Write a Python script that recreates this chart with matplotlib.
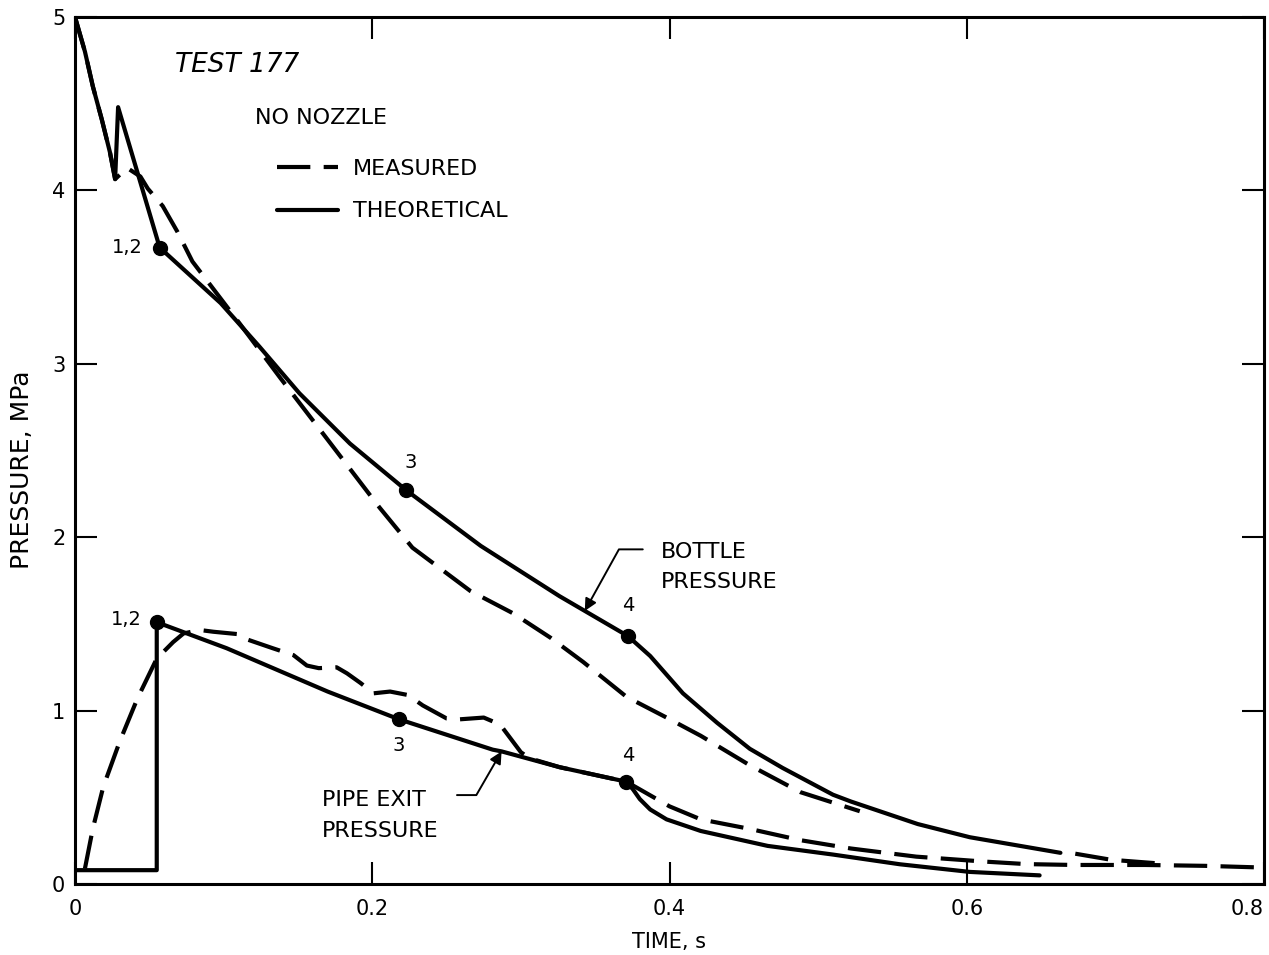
import matplotlib
matplotlib.use("Agg")
import matplotlib.pyplot as plt

plt.rcParams['font.family'] = ['DejaVu Sans']

# ---------------------------------------------------------------- data --
time_ticks = [0.0, 0.2, 0.4, 0.6, 0.8]
time_tick_labels = ["0", "0.2", "0.4", "0.6", "0.8"]
pressure_ticks = [0, 1, 2, 3, 4, 5]

# Bottle pressure, theoretical (time in s, pressure in MPa)
bottle_theo_t = [0.0, 0.0067, 0.012, 0.018, 0.0235, 0.027, 0.029, 0.057,
                 0.098, 0.124, 0.151, 0.185, 0.223, 0.273, 0.326, 0.343,
                 0.372, 0.387, 0.409, 0.432, 0.454, 0.476, 0.51, 0.522,
                 0.567, 0.602, 0.663]
bottle_theo_p = [5.0, 4.80, 4.60, 4.41, 4.22, 4.065, 4.48, 3.67,
                 3.35, 3.10, 2.83, 2.54, 2.27, 1.95, 1.66, 1.575,
                 1.43, 1.315, 1.10, 0.93, 0.78, 0.67, 0.515, 0.476,
                 0.346, 0.27, 0.18]

# Bottle pressure, measured (main record and late tail)
bottle_meas_t = [0.0, 0.0067, 0.012, 0.018, 0.0235, 0.027, 0.035, 0.044,
                 0.049, 0.059, 0.069, 0.079, 0.111, 0.138, 0.172, 0.205,
                 0.227, 0.266, 0.295, 0.32, 0.342, 0.371, 0.398, 0.421,
                 0.454, 0.488, 0.528]
bottle_meas_p = [5.0, 4.80, 4.60, 4.41, 4.22, 4.065, 4.13, 4.08,
                 4.01, 3.91, 3.76, 3.59, 3.23, 2.92, 2.54, 2.17,
                 1.94, 1.69, 1.56, 1.42, 1.28, 1.08, 0.96, 0.855,
                 0.685, 0.53, 0.42]
bottle_tail_t = [0.673, 0.697, 0.735]
bottle_tail_p = [0.175, 0.14, 0.115]

# Pipe exit pressure, theoretical
pipe_theo_t = [0.0, 0.055, 0.055, 0.102, 0.17, 0.218, 0.281, 0.287, 0.326,
               0.371, 0.3755, 0.38, 0.387, 0.398, 0.421, 0.466, 0.51,
               0.555, 0.602, 0.649]
pipe_theo_p = [0.08, 0.08, 1.51, 1.36, 1.11, 0.95, 0.775, 0.765, 0.674,
               0.59, 0.545, 0.49, 0.43, 0.373, 0.306, 0.22, 0.17,
               0.114, 0.07, 0.05]

# Pipe exit pressure, measured
pipe_meas_t = [0.0067, 0.012, 0.019, 0.030, 0.042, 0.055, 0.066, 0.073,
               0.084, 0.093, 0.111, 0.116, 0.133, 0.147, 0.156, 0.164,
               0.176, 0.183, 0.192, 0.201, 0.212, 0.224, 0.234, 0.25,
               0.259, 0.275, 0.286, 0.293, 0.30, 0.306, 0.326, 0.371,
               0.40, 0.421, 0.454, 0.488, 0.522, 0.566, 0.611, 0.64,
               0.672, 0.72, 0.76, 0.80]
pipe_meas_p = [0.09, 0.32, 0.56, 0.82, 1.07, 1.30, 1.395, 1.445,
               1.465, 1.455, 1.44, 1.41, 1.36, 1.32, 1.26, 1.245,
               1.25, 1.215, 1.16, 1.10, 1.11, 1.09, 1.03, 0.955,
               0.95, 0.96, 0.92, 0.84, 0.76, 0.725, 0.674, 0.59,
               0.448, 0.373, 0.318, 0.253, 0.205, 0.158, 0.13, 0.115,
               0.11, 0.11, 0.105, 0.095]

# Numbered state points on the theoretical curves
bottle_pts_t = [0.057, 0.223, 0.372]
bottle_pts_p = [3.67, 2.27, 1.43]
pipe_pts_t = [0.055, 0.218, 0.371]
pipe_pts_p = [1.51, 0.95, 0.59]
bottle_pt_labels = ["1,2", "3", "4"]
pipe_pt_labels = ["1,2", "3", "4"]

# ---------------------------------------------------------------- plot --
fig = plt.figure(figsize=(12.69, 9.55), dpi=100)
ax = fig.add_axes([0.0591, 0.0743, 0.9370, 0.9079])

lw = 3.0
dash = (0, (8, 3.2))
solid_kw = dict(color='black', lw=lw, solid_joinstyle='round', solid_capstyle='round')
dash_kw = dict(color='black', lw=lw, linestyle=dash, dash_capstyle='butt')

theo_line, = ax.plot(bottle_theo_t, bottle_theo_p, **solid_kw)
ax.plot(pipe_theo_t, pipe_theo_p, **solid_kw)
meas_line, = ax.plot(bottle_meas_t, bottle_meas_p, **dash_kw)
ax.plot(bottle_tail_t, bottle_tail_p, **dash_kw)
ax.plot(pipe_meas_t, pipe_meas_p, **dash_kw)

ax.plot(bottle_pts_t, bottle_pts_p, 'o', color='black', ms=10)
ax.plot(pipe_pts_t, pipe_pts_p, 'o', color='black', ms=10)

pt_fs = 14
lab_fs = 16
# point labels for the bottle curve
bottle_offsets = [(-12, 0), (3, 20), (0, 22)]
bottle_ha = ['right', 'center', 'center']
for t, p, s, off, ha in zip(bottle_pts_t, bottle_pts_p, bottle_pt_labels,
                            bottle_offsets, bottle_ha):
    ax.annotate(s, xy=(t, p), xytext=off, textcoords='offset points',
                ha=ha, va='center', fontsize=pt_fs)
# point labels for the pipe exit curve
pipe_offsets = [(-11, 2), (0, -19), (1, 19)]
pipe_ha = ['right', 'center', 'center']
for t, p, s, off, ha in zip(pipe_pts_t, pipe_pts_p, pipe_pt_labels,
                            pipe_offsets, pipe_ha):
    ax.annotate(s, xy=(t, p), xytext=off, textcoords='offset points',
                ha=ha, va='center', fontsize=pt_fs)

# curve call-outs with leader arrows
arrow_kw = dict(arrowstyle='-|>', color='black', lw=1.4,
                mutation_scale=18, shrinkA=0, shrinkB=0)
ax.annotate('', xy=(0.343, 1.575), xytext=(0.382, 1.93),
            arrowprops=dict(connectionstyle='angle,angleA=0,angleB=61,rad=0',
                            **arrow_kw))
ax.text(0.394, 1.83, "BOTTLE\nPRESSURE", ha='left', va='center',
        fontsize=lab_fs, linespacing=1.6)

ax.annotate('', xy=(0.287, 0.765), xytext=(0.257, 0.513),
            arrowprops=dict(connectionstyle='angle,angleA=0,angleB=60,rad=0',
                            **arrow_kw))
ax.text(0.166, 0.395, "PIPE EXIT\nPRESSURE", ha='left', va='center',
        fontsize=lab_fs, linespacing=1.65)

# titles and legend
ax.text(0.0841, 0.9446, "TEST 177", transform=ax.transAxes, ha='left',
        va='center', fontsize=19, fontstyle='italic')
ax.text(0.1514, 0.8835, "NO NOZZLE", transform=ax.transAxes, ha='left',
        va='center', fontsize=16)
ax.legend([meas_line, theo_line], ["MEASURED", "THEORETICAL"],
          loc='upper left', bbox_to_anchor=(0.170, 0.8365), frameon=False,
          borderpad=0, borderaxespad=0, handlelength=2.75, handletextpad=0.68,
          labelspacing=1.02, fontsize=lab_fs)

# axes
ax.set_xlim(0, 0.8)
ax.set_ylim(0, 5)
ax.set_xticks(time_ticks)
ax.set_xticklabels(time_tick_labels)
ax.get_xticklabels()[-1].set_horizontalalignment('right')
ax.set_yticks(pressure_ticks)
for sp in ax.spines.values():
    sp.set_linewidth(2.2)
ax.tick_params(direction='in', length=15.8, width=1.5, top=True, right=True,
               labelsize=15)
ax.tick_params(axis='x', pad=11)
ax.tick_params(axis='y', pad=7)

ax.set_xlabel("TIME, s", fontsize=15)
ax.xaxis.set_label_coords(0.4996, -0.0669)
ax.xaxis.label.set_verticalalignment('center')
ax.set_ylabel("PRESSURE, MPa", fontsize=18)
ax.yaxis.set_label_coords(-0.0446, 0.478)
ax.yaxis.label.set_verticalalignment('center')

fig.savefig("out.png", dpi=100)
